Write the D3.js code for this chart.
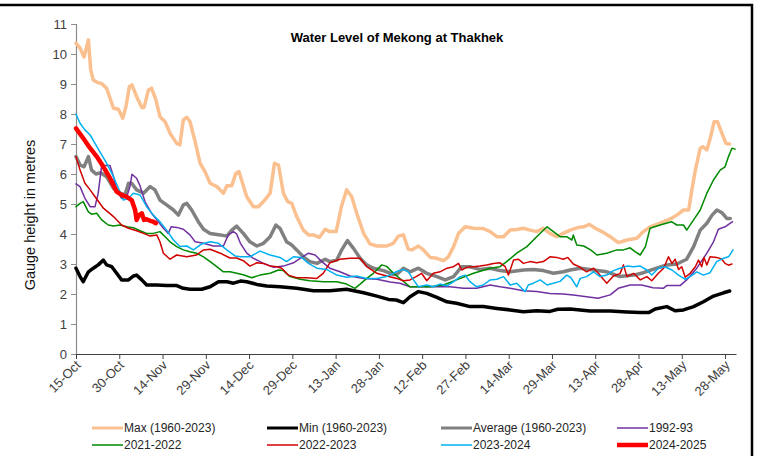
<!DOCTYPE html>
<html lang="en">
  <head>
    <meta charset="UTF-8" />
    <title>Water Level of Mekong at Thakhek</title>
    <style>
      body {
        margin: 0;
        background: white;
      }
      .line-path {
        fill: none;
        stroke-linejoin: round;
        stroke-linecap: round;
      }
      .tick-text {
        font-family: "Liberation Sans", Arial, sans-serif;
        font-size: 13px;
        fill: #404040;
      }
      .legend-text {
        font-family: "Liberation Sans", Arial, sans-serif;
        font-size: 12px;
        fill: #262626;
      }
    </style>
  </head>
  <body>
    <script src="https://d3js.org/d3.v7.min.js"></script>
    <script>
      // day 0 = 15-Oct, one unit = one day
      const tickLabels = ["15-Oct", "30-Oct", "14-Nov", "29-Nov", "14-Dec", "29-Dec", "13-Jan", "28-Jan",
        "12-Feb", "27-Feb", "14-Mar", "29-Mar", "13-Apr", "28-Apr", "13-May", "28-May"];
      const yTicks = [0, 1, 2, 3, 4, 5, 6, 7, 8, 9, 10, 11];

      const maxLevel = [[0,10.36],[1.4,10.2],[2.8,9.9],[4.3,10.47],[5.1,9.47],[6,9.13],[7.7,9.04],[8.8,9.02],[10.6,8.86],[13,8.19],[14.7,8.16],[16.2,7.86],[17.3,8.24],[18.5,8.91],[19.4,8.97],[21,8.58],[22.8,8.22],[23.6,8.22],[25.1,8.8],[26.2,8.86],[27.7,8.47],[29.1,7.91],[30.9,7.74],[32.6,7.36],[34.9,7.02],[36,6.97],[37.2,7.8],[38.4,7.89],[39.5,7.75],[41.3,7.08],[43,6.36],[44.7,6.08],[46.5,5.69],[48.8,5.58],[51.1,5.36],[52.3,5.61],[54,5.61],[55.4,6.02],[56.5,6.08],[57.4,5.8],[59.2,5.24],[61.5,4.91],[63.2,4.91],[65,5.08],[67.3,5.36],[68.8,6.36],[70.2,6.3],[71.9,5.36],[73.4,5.08],[74.8,5.02],[76.5,4.58],[78.8,4.13],[80.6,3.97],[82.3,3.97],[84.4,3.89],[86.4,4.16],[88,4.08],[90.2,4.08],[92,4.91],[93.8,5.47],[95.6,5.24],[97.3,4.69],[99.7,4.02],[101.9,3.67],[104.3,3.6],[107.7,3.6],[110,3.69],[111.8,3.93],[113.5,3.97],[115.2,3.49],[116.4,3.47],[118.7,3.6],[120.4,3.47],[122.8,3.22],[125.1,3.19],[127.4,3.11],[129.1,3.24],[130.9,3.58],[132.6,4.02],[134.9,4.24],[137.8,4.19],[141.2,4.18],[143.6,4.08],[145.9,3.91],[148.2,3.91],[150.5,4.13],[152.8,4.15],[155.1,4.19],[157.4,4.13],[159.7,4.08],[162,4.19],[164.3,4.02],[166.6,3.91],[168.9,4.02],[171.3,4.13],[174.2,4.22],[176,4.24],[178,4.32],[180,4.19],[182.3,4.08],[185.2,3.91],[188,3.71],[191,3.8],[194.4,3.86],[196.7,4.08],[199,4.24],[202.5,4.36],[206.4,4.52],[208.3,4.63],[210.6,4.8],[212.4,4.8],[213.5,5.47],[214.7,6.13],[216.4,6.86],[217.3,6.91],[218.7,6.8],[220,7.24],[221.2,7.74],[222.4,7.74],[223.9,7.36],[225.3,7.02],[226.6,7.0]];

      const minLevel = [[0,2.86],[1.4,2.58],[2.5,2.41],[4.3,2.74],[6,2.86],[7.7,2.97],[9.5,3.13],[10.6,2.97],[12.4,2.91],[14.1,2.69],[15.8,2.47],[18.2,2.47],[19.9,2.6],[21,2.63],[22.8,2.47],[24.5,2.3],[28,2.3],[31.4,2.28],[34.9,2.28],[37.2,2.19],[39.5,2.16],[43.6,2.16],[46.5,2.24],[49.4,2.41],[52.3,2.41],[54.6,2.36],[57,2.43],[59.2,2.41],[62.7,2.32],[66.1,2.27],[70.7,2.24],[76.5,2.19],[82.3,2.11],[88,2.11],[93.8,2.16],[99.7,2.04],[104.3,1.93],[108.3,1.82],[111,1.8],[113.5,1.71],[115.8,1.91],[118.7,2.08],[121.6,2.02],[125.1,1.89],[128.6,1.74],[131.9,1.69],[136.6,1.58],[141.2,1.58],[145.9,1.52],[150.5,1.47],[155.1,1.41],[159.7,1.44],[164.3,1.42],[167,1.49],[171.3,1.5],[178.2,1.43],[185.2,1.43],[191,1.4],[195.6,1.38],[198.5,1.38],[200.8,1.5],[204.8,1.58],[207.7,1.44],[210.6,1.47],[214.1,1.58],[217.5,1.74],[221,1.93],[224.5,2.04],[226.6,2.1]];

      const avgLevel = [[0,6.58],[1.4,6.3],[2.8,6.24],[4.3,6.58],[5.4,6.13],[6.9,6.0],[8.6,6.04],[10.6,5.91],[13,5.52],[15.3,5.36],[17,5.3],[18.2,5.69],[19.3,5.69],[21,5.47],[23.4,5.36],[25.7,5.58],[27.4,5.47],[29.1,5.13],[31.4,4.97],[33.8,4.8],[35.5,4.63],[37.2,4.97],[38.4,5.02],[40.1,4.8],[42.4,4.41],[44.2,4.16],[46.5,4.02],[50,3.97],[52.3,3.93],[54,4.13],[55.7,4.26],[58,4.02],[60.3,3.74],[62.7,3.6],[65,3.69],[67.3,3.91],[69.3,4.3],[70.7,4.19],[73,3.74],[74.8,3.63],[76.5,3.47],[78.8,3.24],[81.1,3.08],[83.5,3.02],[86.4,3.16],[88,3.08],[90.4,3.13],[92.1,3.47],[94.1,3.78],[96.2,3.52],[98.5,3.19],[100.8,2.97],[103.1,2.86],[106.6,2.78],[110,2.65],[111.2,2.65],[113.5,2.86],[115.8,2.74],[118.7,2.86],[121.6,2.69],[125.1,2.58],[128,2.47],[130.9,2.58],[133.7,2.91],[136.6,2.91],[140,2.82],[143.6,2.86],[147,2.78],[150.5,2.74],[155.1,2.8],[158.5,2.82],[162,2.78],[165.5,2.69],[168.9,2.74],[171.3,2.8],[174.8,2.86],[179.4,2.8],[184,2.74],[188.6,2.58],[193.3,2.63],[196.7,2.71],[200,2.82],[204.8,2.97],[208.3,3.0],[211.7,3.16],[214.1,3.58],[216.4,4.13],[218.7,4.36],[220.5,4.63],[222.2,4.8],[223.9,4.71],[225.6,4.52],[226.8,4.52]];

      const y1992 = [[0,5.67],[1.4,5.58],[3.1,5.19],[4.9,4.91],[6.6,4.91],[7.7,5.36],[8.9,6.28],[10.6,6.28],[11.8,6.28],[13,5.91],[14.1,5.47],[15.8,5.19],[17.6,5.24],[18.7,5.58],[19.4,5.99],[21,5.86],[22.1,5.63],[23.9,5.08],[26.2,4.69],[28,4.47],[30.3,4.19],[32,4.02],[33,4.24],[34.9,4.22],[37.2,4.16],[39.5,3.97],[41.3,3.74],[44.2,3.69],[47.6,3.6],[51.1,3.6],[52.8,3.97],[54.6,4.08],[55.7,4.0],[57,3.69],[59.2,3.36],[61.5,3.19],[65,3.02],[68.5,2.89],[71.9,2.93],[75.4,3.04],[77.7,3.19],[80.6,3.36],[82.9,3.3],[85.2,3.08],[88,2.86],[91.5,2.74],[95,2.6],[99.7,2.52],[104.3,2.49],[108.9,2.4],[112.3,2.36],[115.8,2.24],[120.4,2.24],[125.1,2.24],[129.6,2.24],[134.3,2.19],[138.9,2.19],[143.6,2.3],[147,2.24],[150.5,2.19],[155.1,2.11],[159.7,2.08],[164.3,2.02],[168.9,2.0],[172.4,1.97],[177,1.91],[181,1.86],[185.2,1.97],[188,2.19],[192.1,2.3],[196.1,2.3],[200,2.21],[203.6,2.19],[204.8,2.28],[209.4,2.28],[211.7,2.47],[215.2,2.86],[218.7,3.36],[221,3.74],[222.7,4.16],[225,4.24],[227.6,4.41]];

      const y2021 = [[0,4.91],[1.4,5.02],[2.5,5.08],[4.3,4.74],[5.4,4.66],[7.2,4.69],[8.9,4.47],[11.2,4.3],[13,4.27],[15.3,4.3],[17.6,4.24],[19.9,4.21],[22.2,4.11],[24.5,4.02],[26.8,4.02],[29.1,4.08],[30.9,3.91],[32.6,3.74],[34.9,3.58],[37.2,3.47],[39.5,3.41],[41.8,3.36],[44.2,3.24],[46.5,3.08],[48.8,2.91],[51.1,2.74],[53.4,2.74],[55.7,2.69],[58,2.64],[60.9,2.54],[63.8,2.63],[67.3,2.69],[70.2,2.8],[71.9,2.78],[74.2,2.58],[77.7,2.49],[81.1,2.44],[85.8,2.41],[90.4,2.41],[93.8,2.33],[96.7,2.19],[98.5,2.33],[100.8,2.52],[103.1,2.69],[106,2.97],[107.7,2.92],[110,2.7],[112.5,2.5],[115.8,2.24],[117.9,2.24],[122.8,2.24],[127.4,2.3],[131.9,2.47],[137.8,2.69],[143.6,2.86],[147,2.91],[149.3,3.08],[152.8,3.36],[156.3,3.58],[159.7,3.91],[163.3,4.24],[165.5,4.08],[167.8,3.91],[170.1,3.91],[171.9,3.8],[172.4,3.97],[173.6,3.63],[176,3.6],[178.4,3.47],[180.6,3.3],[184,3.36],[187.5,3.47],[189.8,3.47],[192.1,3.54],[193.8,3.41],[195.6,3.3],[197.4,3.58],[199,4.19],[202.5,4.3],[206.4,4.41],[208.3,4.3],[210.6,4.3],[211.7,4.13],[214.1,4.47],[216.4,4.8],[218.7,5.36],[221,5.8],[223.3,6.13],[225,6.24],[226.2,6.58],[227.4,6.86],[228.5,6.83]];

      const y2022 = [[0,6.58],[1.4,6.13],[3.1,5.69],[4.9,5.47],[6.6,5.24],[9.5,4.86],[13,4.58],[15.8,4.3],[18.2,4.19],[21,4.11],[23.4,4.02],[25.7,3.93],[28,3.97],[29.1,3.74],[30.3,3.36],[32.6,3.16],[34.9,3.3],[38.4,3.24],[41.8,3.3],[44.2,3.47],[46.5,3.49],[50,3.36],[53.4,3.2],[55.7,3.2],[58,3.11],[60.3,2.93],[62.7,3.04],[65,3.02],[67.3,2.93],[69.7,2.91],[71.3,2.86],[73.6,2.63],[76.5,2.54],[80,2.54],[83.5,2.52],[85.7,2.69],[88,3.04],[91.5,3.16],[95,3.19],[98.5,3.19],[100.8,2.91],[104.3,2.69],[107.7,2.6],[111.2,2.52],[113.5,2.44],[115.8,2.47],[117.9,2.58],[119.8,2.69],[121.6,2.44],[123.9,2.69],[126.2,2.74],[128.6,2.86],[130.9,2.91],[132.6,3.02],[133.7,2.8],[135.4,2.89],[137.8,2.91],[140,2.93],[142.4,2.97],[144.7,3.02],[147,3.04],[148.8,2.91],[149.9,2.63],[151.7,3.13],[153.4,3.16],[155.1,3.02],[157.4,3.08],[159.7,3.04],[162,3.08],[164.3,3.24],[166.6,3.22],[168.9,3.16],[170.5,3.22],[172.4,3.0],[174.8,2.89],[177,2.74],[179.4,2.86],[181.1,2.69],[182.8,2.49],[184,2.36],[186.3,2.6],[188.6,2.68],[189.8,2.97],[191,2.58],[193.3,2.69],[195.6,2.47],[197.9,2.58],[199.6,2.44],[201.9,2.69],[203.7,2.86],[205.4,3.24],[206.6,3.02],[207.7,3.16],[208.9,2.82],[210,2.91],[211.2,2.56],[212.9,2.69],[214.7,2.91],[215.8,3.13],[216.9,2.91],[217.7,3.22],[218.7,2.97],[219.8,3.24],[222.1,3.22],[223.9,3.16],[225,3.02],[226.2,2.96],[227.4,3.0]];

      const y2023 = [[0,8.0],[1.4,7.69],[3.1,7.47],[4.9,7.3],[6.6,7.02],[8.3,6.74],[10.6,6.36],[13,5.91],[14.7,5.52],[16.4,5.13],[18.2,5.19],[19.9,5.36],[22.2,5.3],[24.5,4.91],[26.8,4.63],[29.1,4.41],[31.4,4.13],[33.8,3.8],[36,3.58],[38.4,3.6],[40.7,3.47],[43.6,3.67],[46.5,3.74],[49.4,3.69],[52.3,3.47],[55.1,3.27],[57,3.24],[60.3,3.24],[63.8,3.43],[67.3,3.3],[70.7,3.22],[73,3.08],[75.4,3.24],[78.2,3.22],[80.6,3.02],[83.5,2.86],[86.9,2.82],[90.4,2.63],[93.8,2.56],[97.3,2.6],[100.8,2.52],[104.3,2.52],[107.7,2.58],[111.2,2.75],[113.5,2.82],[115.2,2.74],[117,2.47],[118.7,2.24],[121.6,2.3],[123.9,2.24],[126.2,2.33],[128.6,2.27],[130.9,2.41],[133.2,2.58],[134.9,2.63],[136.6,2.41],[138.9,2.24],[141.2,2.3],[143.6,2.47],[145.9,2.49],[148.2,2.58],[150.5,2.3],[152.8,2.36],[154.5,2.19],[155.7,2.08],[156.8,2.3],[158.6,2.36],[160.9,2.47],[163.3,2.3],[165.5,2.36],[167.8,2.42],[170.1,2.63],[171.5,2.55],[173.6,2.24],[174.8,2.52],[177,2.58],[179.4,2.74],[181.7,2.58],[184,2.63],[186.3,2.78],[188.6,2.86],[191,2.93],[193.3,2.91],[195.6,2.93],[197.9,2.8],[199.6,2.63],[201.9,2.86],[204.2,2.91],[206.6,2.8],[208.9,2.63],[211.2,2.49],[212.9,2.58],[215.2,2.74],[217.5,2.63],[219.8,2.71],[222.1,3.08],[224.5,3.19],[226.2,3.24],[227.8,3.47]];

      const y2024 = [[0,7.52],[2.5,7.19],[4.9,6.86],[7.2,6.58],[9.5,6.24],[11.8,5.86],[14.1,5.41],[15.8,5.3],[17.6,5.24],[19.3,5.13],[20.5,4.8],[21,4.47],[21.8,4.63],[22.8,4.69],[23.6,4.47],[24.5,4.49],[25.7,4.44],[26.8,4.41],[27.7,4.36]];

      const seriesNames = ["Max (1960-2023)", "Min (1960-2023)", "Average (1960-2023)", "1992-93",
        "2021-2022", "2022-2023", "2023-2024", "2024-2025"];
      const seriesValues = [maxLevel, minLevel, avgLevel, y1992, y2021, y2022, y2023, y2024];
      const seriesColors = ["#FAC090", "#000000", "#808080", "#7030A0", "#008A00", "#D00000", "#00B0F0", "#FF0000"];
      const seriesWidths = [3.5, 3.5, 3.5, 1.5, 1.5, 1.5, 1.5, 4.5];

      const width = 763;
      const height = 464;

      const svg = d3
        .select("body")
        .append("svg")
        .attr("width", width)
        .attr("height", height)
        .style("display", "block");

      svg.append("rect").attr("width", width).attr("height", height).attr("fill", "white");

      // outer frame (top and right edges visible)
      svg.append("line").attr("x1", 0).attr("x2", 753).attr("y1", 5).attr("y2", 5)
        .attr("stroke", "black").attr("stroke-width", 2.5);
      svg.append("line").attr("x1", 752).attr("x2", 752).attr("y1", 4).attr("y2", 456)
        .attr("stroke", "black").attr("stroke-width", 2.5);

      const xScale = d3.scaleLinear().domain([0, 228.8]).range([76, 736]);
      const yScale = d3.scaleLinear().domain([0, 11]).range([354, 24]);

      svg
        .append("text")
        .attr("x", 397)
        .attr("y", 42)
        .attr("text-anchor", "middle")
        .attr("font-family", "'Liberation Sans', Arial, sans-serif")
        .attr("font-weight", "bold")
        .attr("font-size", 13)
        .text("Water Level of Mekong at Thakhek");

      // y axis
      const yAxis = svg
        .append("g")
        .attr("transform", `translate(${xScale(0)}, 0)`)
        .call(d3.axisLeft(yScale).tickValues(yTicks).tickSize(5).tickPadding(4));
      yAxis.select(".domain").attr("stroke", "#8c8c8c").attr("stroke-width", 1.2);
      yAxis.selectAll(".tick line").attr("stroke", "#8c8c8c");
      yAxis.selectAll(".tick text").attr("class", "tick-text").attr("font-size", null).attr("font-family", null);

      svg
        .append("text")
        .attr("transform", `translate(35, 215) rotate(-90)`)
        .attr("text-anchor", "middle")
        .attr("font-family", "'Liberation Sans', Arial, sans-serif")
        .attr("font-size", 14.5)
        .attr("fill", "#111")
        .text("Gauge height in metres");

      // x axis
      const tickDays = tickLabels.map((d, i) => i * 15);
      const xAxis = svg
        .append("g")
        .attr("transform", `translate(0, ${yScale(0)})`)
        .call(
          d3.axisBottom(xScale)
            .tickValues(tickDays)
            .tickFormat((d, i) => tickLabels[i])
            .tickSize(5)
            .tickSizeOuter(0)
        );
      xAxis.select(".domain").attr("stroke", "#404040").attr("stroke-width", 1.2);
      xAxis.selectAll(".tick line").attr("stroke", "#404040");
      xAxis
        .selectAll(".tick text")
        .attr("class", "tick-text")
        .attr("font-size", null)
        .attr("font-family", null)
        .attr("text-anchor", "end")
        .attr("dy", null)
        .attr("y", 0)
        .attr("transform", "translate(5, 12) rotate(-45)");

      const line = d3
        .line()
        .x((d) => xScale(d[0]))
        .y((d) => yScale(d[1]));

      svg
        .append("g")
        .selectAll("path")
        .data(seriesValues)
        .join("path")
        .attr("class", "line-path")
        .attr("d", (d) => line(d))
        .attr("stroke", (d, i) => seriesColors[i])
        .attr("stroke-width", (d, i) => seriesWidths[i]);

      // legend: 4 columns, 2 rows
      const legend = svg
        .append("g")
        .selectAll("g")
        .data(seriesNames)
        .join("g")
        .attr("transform", (d, i) => `translate(${[92, 267, 441, 617][i % 4]}, ${i < 4 ? 428 : 445})`);

      legend
        .append("line")
        .attr("x1", 0)
        .attr("x2", 31)
        .attr("stroke", (d, i) => seriesColors[i])
        .attr("stroke-width", (d, i) => (i === 7 ? 4.5 : i < 3 ? 3 : 1.5));

      legend
        .append("text")
        .attr("class", "legend-text")
        .attr("x", 32)
        .attr("dy", "0.35em")
        .text((d) => d);
    </script>
  </body>
</html>
